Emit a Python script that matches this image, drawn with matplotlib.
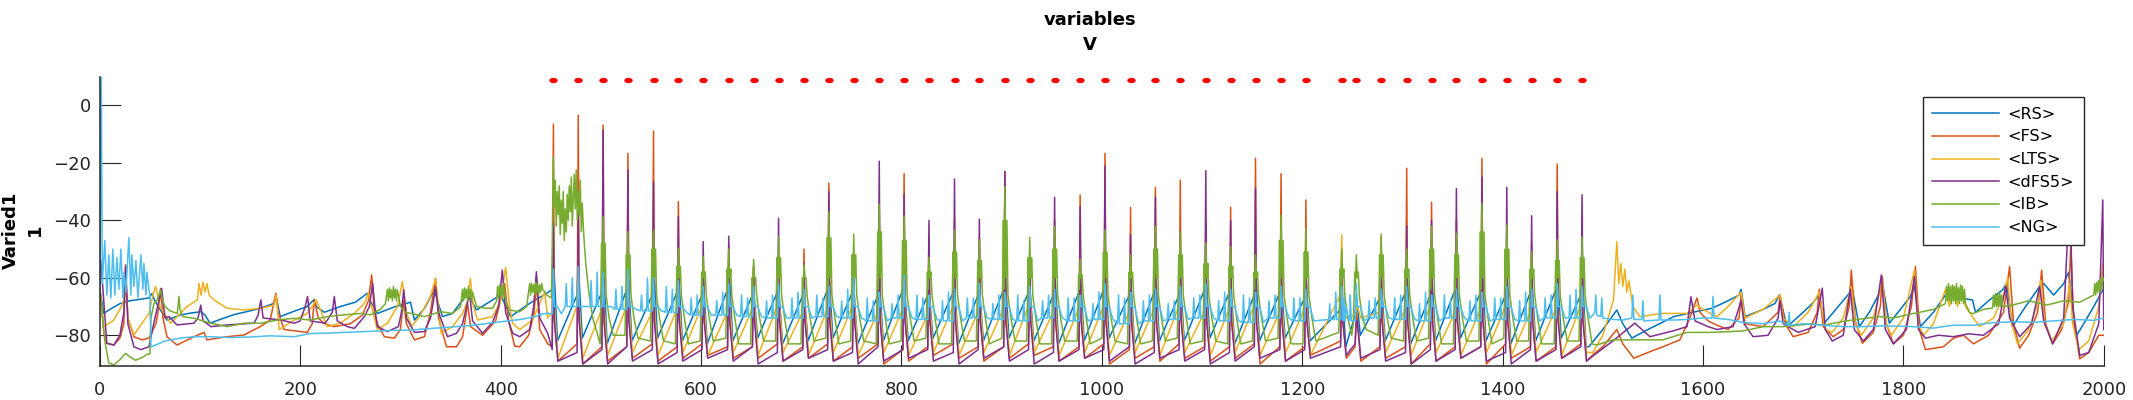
"""
    Mean membrane potential per population (RS, FS, LTS, dFS5, IB, NG)
"""
import numpy as np
import matplotlib
matplotlib.use("Agg")
import matplotlib.pyplot as plt
from matplotlib.markers import MarkerStyle
from matplotlib.transforms import Affine2D

labels = ["<RS>", "<FS>", "<LTS>", "<dFS5>", "<IB>", "<NG>"]
colors = ["#0072BD", "#D95319", "#EDB120", "#7E2F8E", "#77AC30", "#4DBEEE"]

# gamma cycle times (red markers on top), ms
spike_t = [452.7, 477.5, 502.3, 527.1, 552.6, 577.4, 602.2, 627.7, 652.5, 677.4,
           702.8, 727.6, 752.4, 777.9, 802.7, 827.5, 853.0, 877.8, 903.3, 928.1,
           952.9, 978.4, 1003.2, 1028.7, 1053.5, 1078.3, 1103.8, 1128.6, 1153.4, 1178.9,
           1203.7, 1239.5, 1254.0, 1278.8, 1304.3, 1329.1, 1353.9, 1379.4, 1404.2, 1429.0,
           1454.5, 1479.3]
marker_v = 8.8

# ---------------- RS ----------------
rs_early_t = [0, 4, 10, 20, 30, 40, 49, 52, 55, 60, 67, 80, 90, 101, 105, 110, 120, 134, 150, 160,
              174, 176, 180, 195, 207, 214, 216, 224, 240, 255, 267, 270, 277, 295, 310, 314, 324, 334, 336, 342,
              352, 362, 367, 376, 392, 400, 410, 429, 446]
rs_early_v = [-64, -72.4, -71, -69, -68, -67.5, -67, -65.5, -68, -71, -74.7, -73, -72.3, -71.8, -73, -75.8, -74.5, -72.8, -71.5, -70.6,
              -68.9, -66.5, -73.5, -71.5, -70, -67.5, -70, -72, -70, -68.5, -65.4, -68, -72.4, -70, -68.5, -74.7, -70.6, -64.2, -67, -73.5,
              -72.4, -67.7, -65.4, -71.2, -67.7, -66, -73.5, -68.9, -65.4]
rs_pre = [-64, -66, -65, -64, -66, -65, -66, -64, -66, -65, -66, -64, -65, -66, -64, -66, -65, -66, -64, -65,
          -66, -65, -64, -66, -65, -66, -64, -65, -66, -65, -67, -71, -73, -67, -65, -66, -64, -65, -66, -65,
          -64, -66]
rs_peak = [-52.6, -55, -52.6, -58, -54, -57, -60, -55, -64, -63, -65, -58.4, -64, -60.2, -60.8, -64, -63, -63, -57.3, -63,
           -56.7, -58, -56, -60, -57, -60, -58, -61, -57, -60, -59, -62, -66, -60, -56, -57, -58, -55, -58, -60,
           -57, -56]
rs_trough = [-82, -81, -83, -82, -81, -82, -83, -82, -81, -83, -82, -81, -83, -82, -82, -81, -83, -82, -81, -82,
             -83, -82, -81, -83, -82, -82, -81, -83, -82, -81, -82, -84, -80, -82, -83, -82, -81, -82, -83, -82,
             -81, -84]
rs_late_t = [1486, 1500, 1514, 1520, 1529, 1545, 1571, 1590, 1609, 1625, 1636, 1638, 1642, 1660, 1672, 1676, 1684, 1700, 1709, 1716,
             1721, 1735, 1746, 1748, 1756, 1766, 1776, 1779, 1786, 1797, 1807, 1811, 1817, 1830, 1842, 1855, 1869, 1872, 1885, 1899,
             1903, 1909, 1920, 1936, 1940, 1950, 1960, 1965, 1972, 1980, 1990, 1999, 2000]
rs_late_v = [-84, -78, -71.2, -76, -81, -78, -73.5, -72, -70.6, -68, -66, -64, -73.5, -71, -68.9, -66, -77, -72, -69, -66,
             -75.8, -70, -65.4, -62, -77, -72, -65.4, -62, -75.8, -71, -66.5, -63, -77, -72, -66, -67, -67.7, -72, -68, -64.2,
             -62, -77, -71, -63, -62, -66, -62, -58, -80.5, -76, -70, -64.2, -64]

# ---------------- FS ----------------
fs_early_t = [0, 4, 7, 14, 20, 24, 25.7, 28, 34, 42, 49, 56, 59, 60.7, 63, 67, 77, 94, 104, 107,
              127, 144, 160, 170, 175.7, 178, 184, 207, 212, 214, 218, 224, 234, 250, 262, 268, 271.3, 274, 277, 284,
              294, 300, 303, 306, 314, 324, 330, 335, 338, 346, 356, 362, 365, 367, 370, 382, 395, 401, 404, 408,
              414, 419, 428, 433, 436, 439, 447]
fs_early_v = [-64, -79, -82.8, -83.4, -81, -76, -55.5, -74, -80.5, -81.6, -81, -76, -70, -63.7, -74, -80.5, -83.4, -80.5, -79, -81.6,
              -80.5, -79.9, -77, -74.7, -65.4, -72, -78, -79, -76, -67.7, -74, -76, -77, -76, -73, -68, -59, -72, -76, -80.5,
              -81, -78, -68, -76, -81.6, -80.5, -72, -60.2, -74, -84, -84, -80.5, -74, -68.9, -77, -80, -75, -66, -62, -75,
              -83.8, -84, -80, -73, -62, -78, -83]
fs_pre = [-84, -83, -84, -84, -83, -84, -83, -84, -84, -83, -84, -83, -84, -83, -85, -84, -83, -84, -84, -83,
          -84, -84, -83, -85, -84, -83, -84, -84, -83, -84, -84, -82, -84, -84, -84, -83, -84, -84, -83, -84,
          -84, -83]
fs_peak = [-6.5, -3.4, -6.8, -16.7, -8.9, -33.5, -55, -49, -56, -57, -50, -27, -52, -40, -23.7, -45, -40, -46, -23, -56,
           -40, -31.2, -16.7, -35.5, -28.5, -26, -40, -35.5, -18.4, -23.7, -32.9, -50, -72, -46, -21.9, -33.7, -40, -18.4, -45, -48,
           -20.4, -45]
fs_after = -74
fs_trough = [-89, -90, -89, -88, -89, -88, -87, -88, -88, -89, -88, -89, -88, -90, -89, -87, -88, -89, -88, -87,
             -89, -88, -90, -88, -89, -88, -89, -88, -90, -89, -87, -88, -89, -88, -90, -89, -88, -90, -88, -89,
             -88, -89]
fs_late_t = [1491, 1500, 1514, 1520, 1531, 1545, 1560, 1577, 1586, 1594, 1597, 1605, 1614, 1625, 1636, 1638, 1642, 1660, 1675, 1677,
             1682, 1690, 1705, 1714, 1716, 1720, 1730, 1740, 1746, 1748, 1752, 1759, 1770, 1777, 1779, 1783, 1790, 1800, 1808, 1812,
             1816, 1822, 1840, 1850, 1860, 1870, 1885, 1900, 1906, 1910, 1916, 1925, 1934, 1938, 1942, 1949, 1958, 1965, 1967, 1970,
             1976, 1985, 1995, 2000]
fs_late_v = [-86.5, -84, -78, -83, -88, -86, -84, -81.6, -74.7, -67, -72, -75, -76.5, -78, -74, -66, -76, -77, -72, -66,
             -76, -80.5, -79, -72, -64, -77, -80.5, -78, -70, -57.3, -75, -82.8, -79, -70, -59.6, -76, -83, -80, -70, -56.1,
             -78, -85, -84, -81, -80, -83, -80, -72, -56.1, -76, -84.5, -80, -72, -57.3, -76, -83, -78, -68, -49, -75,
             -88.2, -86, -80, -80]

# ---------------- LTS ----------------
lts_early_t = [0, 4, 14, 20, 24, 25.7, 28, 34, 49, 53, 55.7, 60, 70.7, 87, 97.3, 99, 101, 103, 105, 107,
               109, 114, 127, 144, 160.7, 174, 176, 179, 194, 207, 214, 216, 227, 240, 254, 264, 268, 271, 277, 287,
               297, 302, 306, 311, 319, 330, 335, 338, 340.7, 352, 362, 367, 369.7, 373, 377, 392, 400, 405, 409, 412,
               419, 432, 440, 444, 447]
lts_early_v = [-64, -77, -74.7, -71, -68, -64, -74, -79.9, -72.4, -66, -63, -70, -75.8, -70, -67.7, -62, -66, -61.5, -65, -62,
               -66, -67.7, -70.6, -71.2, -70.6, -69.5, -66, -78, -74.7, -72.4, -68.9, -67.7, -77, -75.8, -72.4, -68.9, -65.4, -70, -78, -75.8,
               -70, -61.3, -72, -77, -73.5, -66.5, -60.2, -70, -79.3, -77, -72.4, -68, -60.2, -70, -74.7, -73.5, -68, -56.3, -70, -75.8,
               -78, -74.7, -68, -65, -74]
lts_pre = [-72, -70, -71, -70, -72, -71, -70, -72, -71, -70, -72, -71, -70, -72, -71, -73, -70, -72, -71, -70,
           -72, -71, -70, -72, -71, -70, -72, -71, -70, -72, -71, -66, -73, -72, -71, -70, -72, -71, -70, -72,
           -71, -70]
lts_peak = [-55, -50, -54, -57, -55, -58, -58, -60, -56, -60, -61, -52, -58, -55, -57, -60, -56, -59, -52, -60,
            -57, -58, -54, -59, -56, -58, -55, -59, -57, -56, -60, -45, -71, -58, -55, -57, -56, -53, -58, -60,
            -55, -57]
lts_after = -70
lts_trough = [-88, -88, -87, -86, -87, -86, -87, -86, -87, -86, -87, -86, -87, -86, -87, -86, -87, -86, -87, -86,
              -87, -86, -87, -86, -87, -86, -87, -86, -87, -86, -87, -74, -74, -86, -87, -86, -87, -86, -87, -86,
              -87, -86]
lts_late_t = [1490, 1500, 1510.7, 1514, 1516, 1518, 1520, 1522, 1524, 1526, 1530, 1537, 1560, 1584, 1594, 1600, 1614, 1625, 1638, 1642,
              1660, 1677, 1680, 1690, 1705, 1716, 1722, 1729, 1740, 1748, 1752, 1758, 1770, 1779, 1783, 1788, 1800, 1811, 1815, 1820,
              1830, 1842, 1846, 1850, 1854, 1858, 1862, 1870, 1876, 1890, 1900, 1904, 1908, 1914, 1925, 1935, 1937, 1941, 1948, 1960,
              1966, 1969, 1975, 1985, 1995, 1999, 2000]
lts_late_v = [-86, -80, -67.7, -47.4, -62, -55, -63, -57, -65, -61, -70, -73.5, -72.4, -72.4, -69.5, -71, -73.5, -70, -65, -74,
              -71, -66, -74, -77, -72, -65, -78, -79, -74, -63, -76, -80, -74, -61, -76, -80, -74, -57.3, -76, -80,
              -76, -64, -70, -63, -70, -63, -70, -74, -77, -74, -66, -60, -76, -83, -78, -68, -60.8, -76, -82, -76,
              -62, -76, -85, -82, -70, -54.9, -65]

# ---------------- dFS5 ----------------
dfs_early_t = [0, 1, 7, 14, 20, 24, 25.7, 28, 34, 41, 49, 55, 59, 61.7, 65, 69, 77, 94, 98, 100.7,
               103, 111, 127, 154, 158, 160.7, 163, 181, 194, 200, 205, 207.3, 210, 225, 232, 234, 237, 247, 254, 264,
               269, 272.3, 275, 277, 287, 298, 301, 303.3, 306, 314, 324, 330, 333, 335, 338, 347, 356, 362, 366, 369,
               372, 382, 392, 398, 401.7, 405, 412, 419, 429, 433, 435.7, 439, 447]
dfs_early_v = [-62, -54, -82.8, -83.4, -80, -72, -56, -76, -84, -85, -84, -74, -68, -63.7, -74, -73.5, -76.4, -75.8, -74, -69.5,
               -75, -77, -76.4, -75.8, -73, -67.7, -74, -74.7, -75.8, -75, -70, -66.5, -75, -75.8, -72, -66.5, -75, -77, -77.6, -73.5,
               -70, -61.9, -72, -77, -78.7, -77, -72, -64.2, -74, -79, -78.7, -74, -68, -63, -72, -80.5, -79.3, -76, -70, -65.4,
               -75, -79.3, -75.5, -70, -57.3, -72, -79.3, -80.5, -78, -70, -57.9, -74, -79.3]
dfs_pre = [-85, -86, -85, -84, -85, -86, -85, -85, -84, -86, -85, -85, -86, -84, -85, -85, -86, -85, -84, -85,
           -86, -85, -85, -84, -86, -85, -85, -86, -84, -85, -85, -84, -83, -85, -86, -85, -85, -84, -86, -85,
           -85, -84]
dfs_peak = [-41, -37.6, -8.6, -22.5, -26.5, -38.7, -47.4, -45.5, -56, -39.3, -55, -30, -53, -19.4, -31, -40, -25.6, -39.6, -23, -54,
            -32, -35.2, -21.1, -45, -32, -44, -22.7, -40, -28.9, -45, -58, -60, -75, -52, -42, -40, -28.9, -25, -28.5, -38.4,
            -30, -31.1]
dfs_after = -75
dfs_trough = [-89, -90, -90, -89, -90, -89, -88, -89, -90, -89, -88, -89, -90, -89, -88, -89, -90, -88, -89, -90,
              -89, -88, -89, -90, -88, -89, -90, -89, -88, -89, -88, -87, -88, -89, -90, -89, -88, -89, -90, -89,
              -88, -89]
dfs_late_t = [1491, 1510, 1532, 1547, 1570, 1584, 1588, 1592, 1605, 1614, 1630, 1638, 1641, 1650, 1665, 1675, 1677, 1680, 1695, 1712,
              1719, 1722, 1729, 1740, 1747, 1751, 1760, 1770, 1778, 1782, 1790, 1803, 1811, 1815, 1822, 1835, 1850, 1865, 1880, 1895,
              1902, 1906, 1916, 1928, 1936, 1940, 1949, 1960, 1966, 1969, 1976, 1985, 1995, 1999, 2000]
dfs_late_v = [-87, -82, -75.8, -80.5, -78.5, -77, -66.6, -75, -77, -78, -77, -68, -76, -80.5, -80, -74, -68, -76, -79, -77,
              -63.6, -78, -82, -80, -64, -78, -82, -78, -59, -78, -83, -78, -59.6, -78, -81, -80, -80.5, -79.5, -80, -76,
              -63, -74, -80.5, -76, -63, -75, -83, -74, -30, -70, -87, -86, -76, -32.9, -78]

# ---------------- IB ----------------
ib_early_t = [0, 5, 9, 14, 20, 25.7, 30, 35.7, 42, 47.3, 50, 51, 54, 57.3, 59, 60.7, 62, 65, 70, 77.3,
              78, 79, 80, 83, 94, 110.7, 127.3, 144, 160.7, 177, 194, 210, 227.3, 244, 260.7, 270, 280, 285, 287, 288,
              289, 290, 291, 292, 293, 294, 295, 296, 297, 300, 305, 310.7, 324, 340, 352, 360, 362, 363, 364, 365,
              366, 367, 368, 369, 370, 371, 372, 376, 385, 392, 396, 397, 398, 399, 400, 401, 402, 403, 404, 406,
              409, 419, 426, 429, 430, 431, 432, 433, 434, 435, 436, 437, 438, 439, 440, 441, 442, 446, 450.7,
              451.5, 452.5, 453.5, 454.5, 455.5, 456.5, 457.5, 458.5, 459.5, 460.5, 461.5, 462.5, 463.5, 464.5, 465.5,
              466.5, 467.5, 468.5, 469.5, 470.5, 471.5, 472.5, 473.5, 474.5, 475.5, 476.5, 477.5, 478.5, 479.5, 480.5,
              481.5, 482.5, 483.5, 485, 488, 492, 497]
ib_early_v = [-64, -82, -89.7, -90.3, -88.5, -86.3, -87.5, -88.7, -87.8, -86.6, -86.5, -74, -69, -67.7, -66, -64.2, -67, -70, -71.5, -72.4,
              -70, -66.5, -71, -73.5, -74.1, -75.8, -77, -75.8, -75.8, -74.7, -74.1, -74.7, -73.5, -72.9, -72.4, -72.9, -71, -69, -64, -68,
              -63.5, -67, -64.2, -68, -63, -67, -64, -68, -64.2, -70, -72, -72.4, -73.5, -71.8, -72.4, -70, -64, -68, -63.5, -67,
              -64, -68, -63, -67, -64, -68, -65, -70, -70.6, -70.6, -68, -63, -67, -62.5, -66, -63, -67, -62, -66, -69,
              -71.2, -71.8, -70, -62, -66, -61.9, -65, -62.5, -66, -61.5, -65, -62, -66, -62.5, -65, -62, -64, -66, -67,
              -50, -18, -35, -26, -42, -30, -38, -28, -45, -33, -41, -30, -47, -36, -44,
              -31, -40, -28, -37, -25, -42, -32, -24, -36, -22.5, -40, -30, -38, -26, -44,
              -34, -42, -48, -55, -65, -74, -80]
# IB gamma bursts start at the third cycle
ib_pre = [-83, -80, -82, -83, -82, -81, -83, -82, -83, -81, -82, -83, -82, -81, -83, -82, -81, -82, -83, -82,
          -81, -83, -82, -81, -82, -83, -82, -81, -83, -79, -76, -80, -82, -81, -83, -82, -81, -82, -83, -82]
ib_peak = [-38.7, -44, -43.4, -49.7, -52.6, -50, -53.6, -45.7, -55.5, -37, -44.8, -34.4, -38.5, -52.9, -43.4, -46.8, -28.3, -45.9, -42.2, -53.5,
           -43.4, -52, -42.2, -44, -47.8, -49.2, -52, -38.2, -42.8, -50, -52, -44.8, -50, -42.2, -44.5, -34.1, -41.6, -50.9, -46.8, -45.7]
ib_peak2 = [-48, -52, -50, -56, -58, -57, -60, -53, -60, -46, -52, -44, -47, -58, -51, -54, -40, -53, -50, -59,
            -51, -58, -50, -52, -55, -56, -58, -47, -51, -57, -58, -52, -57, -50, -52, -44, -50, -57, -54, -53]
ib_band = [-64, -60, -66, -74]
ib_trough = [-80, -81, -82, -83, -82, -83, -82, -83, -82, -83, -82, -83, -82, -83, -82, -83, -82, -83, -82, -83,
             -82, -83, -82, -83, -82, -83, -82, -83, -82, -80, -78, -81, -82, -83, -82, -83, -82, -83, -82, -83]
ib_late_t = [1494, 1510, 1530, 1560, 1584, 1609, 1640, 1660, 1680, 1709, 1720, 1743, 1776, 1790, 1809, 1830, 1842, 1843, 1844, 1845,
             1846, 1847, 1848, 1849, 1850, 1851, 1852, 1853, 1854, 1855, 1856, 1857, 1858, 1859, 1860, 1861, 1862, 1866, 1869, 1880,
             1889, 1890, 1891, 1892, 1893, 1894, 1895, 1896, 1897, 1898, 1899, 1909, 1925, 1943, 1960, 1976, 1990, 1991, 1992, 1993,
             1994, 1995, 1996, 1997, 1998, 1999, 2000]
ib_late_v = [-83.4, -81.6, -81.6, -81.6, -79, -79, -78.5, -77, -77, -76, -76.5, -75, -73.5, -74, -72.5, -71, -69, -63, -68, -62,
             -68, -63, -69, -62.5, -68, -63, -69, -62, -68, -63.5, -69, -62.5, -68, -63, -69, -64, -69, -72, -72.5, -71,
             -70.5, -66, -70, -65.5, -70, -66, -70, -65, -70, -66, -70, -69.5, -68, -69.5, -68, -68.5, -66, -62, -66, -61.5,
             -65, -61, -65, -60.5, -64, -60, -60.8]

# ---------------- NG ----------------
ng_early_t = [0, 1.5, 2.5, 5, 7, 9, 11, 13, 15, 17, 19, 21, 23, 24, 26, 29, 31, 32, 34, 36,
              38, 41, 43, 44, 46, 47, 49, 50, 51, 55, 65, 80, 94, 110, 130, 150, 170, 194, 210, 230,
              244, 260, 280, 294, 310, 324, 340, 360, 380, 400, 420, 436]
ng_early_v = [-64, 10, -62, -47, -66, -52, -67, -50, -66, -53, -64, -50, -67, -58, -65, -46, -66, -52, -63, -54,
              -67, -52, -64, -55, -66, -58, -64, -66, -84, -83.5, -82, -81, -80.5, -80.5, -80.8, -80.6, -80.2, -80.5, -79.4, -79.2,
              -79, -78.8, -78.5, -78.3, -78.2, -77.8, -77.4, -76.9, -76.2, -75.3, -74.5, -73.4]
ng_s1 = [-57, -56, -58, -57, -60, -61, -63, -62, -63, -62, -64, -63, -60, -65, -59, -66, -64, -62, -65, -63,
         -64, -66, -62, -65, -64, -63, -62, -64, -65, -63, -64, -63, -62, -64, -63, -66, -64, -65, -63, -64,
         -62, -63]
ng_s2 = [-72, -60, -58, -63, -60, -64, -66, -65, -67, -66, -65, -67, -64, -68, -66, -67, -65, -67, -66, -68,
         -66, -67, -65, -67, -66, -68, -66, -65, -67, -66, -67, -65, -66, -67, -66, -65, -68, -66, -67, -65,
         -66, -64]
ng_s3 = [-73, -62, -61, -64, -66, -63, -67, -68, -66, -68, -67, -66, -68, -67, -69, -66, -68, -67, -69, -66,
         -68, -67, -69, -66, -68, -69, -67, -68, -66, -68, -67, -69, -67, -68, -67, -69, -66, -68, -67, -68,
         -67, -66]
ng_base = [-72.5, -70, -70, -71, -71.5, -72, -73, -73, -73.5, -74, -74, -73.5, -74, -75, -74, -74.5, -75, -74, -74.5, -75,
           -74, -75, -74.5, -76, -75, -74.5, -74, -75, -75.5, -74, -75, -74.5, -75, -74, -74.5, -75, -74, -75, -74.5, -75,
           -74, -74]
ng_hump = -70
ng_late_t = [1490, 1492, 1493, 1494, 1498, 1499, 1500, 1510, 1520, 1529, 1530, 1531, 1539, 1540, 1541, 1556, 1557, 1558, 1570, 1585,
             1600, 1609, 1610, 1611, 1625, 1640, 1660, 1676, 1685, 1686, 1687, 1700, 1720, 1740, 1760, 1780, 1810, 1830, 1850, 1870,
             1890, 1910, 1930, 1950, 1970, 1990, 2000]
ng_late_v = [-73, -72, -66, -73, -73.5, -67, -74, -74.5, -74.7, -74, -66, -74.5, -74.5, -68, -75, -74.7, -66, -74.7, -74.7, -74.5,
             -74, -74, -66.5, -74, -74.5, -75.5, -76, -75, -76.5, -72, -76.5, -76, -76.5, -77, -77, -76.7, -77, -77.5, -76.5, -76.5,
             -75.6, -75.3, -75.5, -75, -74.5, -74.8, -74]


def cycle_trace(times, offsets, cols):
    """place per-cycle values at fixed offsets around each cycle time"""
    t, v = [], []
    for i, t0 in enumerate(times):
        for off, col in zip(offsets, cols):
            t.append(t0 + off)
            v.append(col[i] if isinstance(col, list) else col)
    order = np.argsort(t, kind="stable")
    return list(np.array(t)[order]), list(np.array(v)[order])


def join(early_t, early_v, mid, late_t, late_v):
    return early_t + mid[0] + late_t, early_v + mid[1] + late_v


series = [
    join(rs_early_t, rs_early_v,
         cycle_trace(spike_t, [-1.2, 0, 4], [rs_pre, rs_peak, rs_trough]),
         rs_late_t, rs_late_v),
    join(fs_early_t, fs_early_v,
         cycle_trace(spike_t, [-1.2, 0, 0.9, 4.5], [fs_pre, fs_peak, fs_after, fs_trough]),
         fs_late_t, fs_late_v),
    join(lts_early_t, lts_early_v,
         cycle_trace(spike_t, [-1.5, 0, 1, 4.5], [lts_pre, lts_peak, lts_after, lts_trough]),
         lts_late_t, lts_late_v),
    join(dfs_early_t, dfs_early_v,
         cycle_trace(spike_t, [-1.2, 0, 0.9, 4.5], [dfs_pre, dfs_peak, dfs_after, dfs_trough]),
         dfs_late_t, dfs_late_v),
    join(ib_early_t, ib_early_v,
         cycle_trace(spike_t[2:], [-3, -1.5, -1, 0, 1, 2, 3, 6, 10],
                     [ib_pre, ib_peak2, ib_band[0], ib_peak, ib_band[1], ib_peak2, ib_band[2], ib_band[3], ib_trough]),
         ib_late_t, ib_late_v),
    join(ng_early_t, ng_early_v,
         cycle_trace(spike_t, [-13, -12, -11, -7, -6, -5, -1, 0, 1, 4, 8],
                     [ng_base, ng_s3, ng_base, ng_base, ng_s2, ng_base, ng_base, ng_s1, ng_hump, ng_hump, ng_base]),
         ng_late_t, ng_late_v),
]

fig = plt.figure(figsize=(21.33, 4.0), dpi=100)
ax = fig.add_axes([0.0468, 0.085, 0.9395, 0.7233])

for (t, v), c, lab in zip(series, colors, labels):
    ax.plot(t, v, color=c, lw=1.1, label=lab)

dot = MarkerStyle("o", transform=Affine2D().scale(1.8, 1.0))
ax.plot(spike_t, [marker_v] * len(spike_t), linestyle="none", marker=dot,
        ms=2.8, color="red", mec="red")

ax.set_xlim(0, 2000)
ax.set_ylim(-90.7, 10)
ax.set_xticks(np.arange(0, 2001, 200))
ax.set_yticks([-80, -60, -40, -20, 0])
ax.spines["top"].set_visible(False)
ax.spines["right"].set_visible(False)
for s in ["left", "bottom"]:
    ax.spines[s].set_linewidth(1.1)
    ax.spines[s].set_color("#262626")
ax.tick_params(axis="both", direction="in", length=15, width=0.8, colors="#262626", labelsize=13)
ax.tick_params(axis="x", pad=10.5)
ax.tick_params(axis="y", pad=6.5)

ax.set_title("variables\nV", fontsize=13, fontweight="bold", linespacing=1.45, x=0.494, pad=19.5)
ax.set_ylabel("Varied1\n1", fontsize=13, fontweight="bold", linespacing=1.45)
ax.yaxis.set_label_coords(-0.028, 0.47)

leg = ax.legend(loc="upper right", bbox_to_anchor=(0.9899, 0.929), borderaxespad=0,
                fontsize=11.5, fancybox=False, edgecolor="#262626", framealpha=1,
                handlelength=4.2, handletextpad=0.5, labelspacing=0.48, borderpad=0.6)
leg.get_frame().set_linewidth(1.0)

plt.savefig("out.png", dpi=100)
